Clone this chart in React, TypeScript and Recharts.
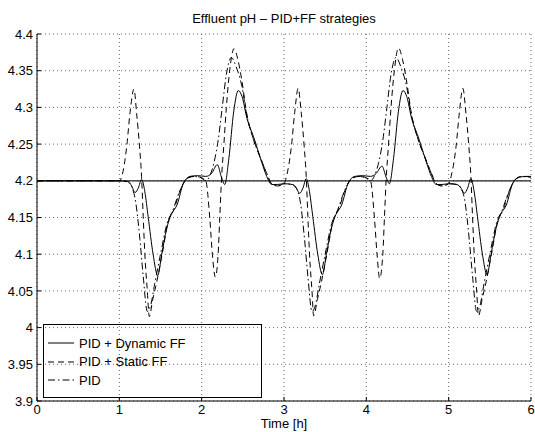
/** Effluent pH under the three PID+FF control strategies (step disturbances every hour). */

import {
  LineChart,
  Line,
  XAxis,
  YAxis,
  CartesianGrid,
  ReferenceLine,
  Legend,
  Label,
} from "recharts";

// PID + Dynamic FF (solid)
const dynTime = [
  0, 1, 1.1, 1.15, 1.19, 1.23, 1.27, 1.31, 1.35, 1.41, 1.466, 1.515, 1.575, 1.63, 1.7, 1.78, 1.86, 1.95,
  2.05, 2.12, 2.19, 2.24, 2.28, 2.33, 2.39, 2.445, 2.49, 2.55, 2.63, 2.73, 2.79, 2.85, 2.92,
  3.0, 3.1, 3.15, 3.19, 3.23, 3.27, 3.31, 3.35, 3.41, 3.466, 3.515, 3.575, 3.63, 3.7, 3.78, 3.86, 3.95,
  4.05, 4.12, 4.19, 4.24, 4.28, 4.33, 4.39, 4.445, 4.49, 4.55, 4.63, 4.73, 4.79, 4.85, 4.92,
  5.0, 5.1, 5.15, 5.19, 5.23, 5.27, 5.31, 5.35, 5.41, 5.466, 5.515, 5.575, 5.63, 5.7, 5.78, 5.86, 5.95, 6.0,
];
const dynPH = [
  4.2, 4.2, 4.199, 4.193, 4.184, 4.19, 4.202, 4.185, 4.151, 4.1, 4.071, 4.1, 4.135, 4.154, 4.167, 4.197, 4.206, 4.207,
  4.206, 4.21, 4.222, 4.205, 4.195, 4.23, 4.295, 4.323, 4.315, 4.285, 4.26, 4.225, 4.206, 4.195, 4.195,
  4.196, 4.195, 4.19, 4.183, 4.19, 4.203, 4.185, 4.151, 4.1, 4.072, 4.1, 4.135, 4.154, 4.167, 4.197, 4.206, 4.207,
  4.206, 4.21, 4.22, 4.205, 4.196, 4.23, 4.295, 4.323, 4.315, 4.285, 4.26, 4.225, 4.206, 4.195, 4.195,
  4.196, 4.195, 4.19, 4.183, 4.19, 4.203, 4.185, 4.151, 4.1, 4.072, 4.1, 4.135, 4.154, 4.167, 4.197, 4.205, 4.206, 4.206,
];

// PID + Static FF (dashed)
const statTime = [
  0, 1, 1.03, 1.09, 1.13, 1.178, 1.21, 1.245, 1.27, 1.29, 1.31, 1.34, 1.364, 1.405, 1.45, 1.52, 1.6, 1.66, 1.74, 1.82, 1.92,
  2.0, 2.05, 2.1, 2.13, 2.166, 2.2, 2.22, 2.24, 2.27, 2.3, 2.34, 2.393, 2.44, 2.486, 2.547, 2.63, 2.71, 2.79, 2.85, 2.92,
  3.0, 3.03, 3.09, 3.13, 3.172, 3.21, 3.245, 3.27, 3.29, 3.31, 3.34, 3.36, 3.405, 3.45, 3.52, 3.6, 3.66, 3.74, 3.82, 3.92,
  4.0, 4.05, 4.1, 4.13, 4.162, 4.2, 4.22, 4.24, 4.27, 4.3, 4.34, 4.39, 4.44, 4.486, 4.547, 4.63, 4.71, 4.79, 4.85, 4.92,
  5.0, 5.03, 5.09, 5.13, 5.172, 5.21, 5.245, 5.27, 5.29, 5.31, 5.34, 5.362, 5.405, 5.45, 5.52, 5.6, 5.66, 5.74, 5.82, 5.92, 6.0,
];
const statPH = [
  4.2, 4.2, 4.206, 4.247, 4.293, 4.325, 4.292, 4.247, 4.206, 4.151, 4.1, 4.05, 4.015, 4.038, 4.06, 4.1, 4.147, 4.16, 4.187, 4.203, 4.206,
  4.204, 4.2, 4.147, 4.1, 4.069, 4.1, 4.15, 4.2, 4.25, 4.3, 4.35, 4.38, 4.365, 4.338, 4.292, 4.256, 4.233, 4.21, 4.196, 4.193,
  4.196, 4.206, 4.247, 4.293, 4.326, 4.292, 4.247, 4.206, 4.151, 4.1, 4.05, 4.016, 4.038, 4.06, 4.1, 4.147, 4.16, 4.187, 4.203, 4.206,
  4.204, 4.2, 4.147, 4.1, 4.067, 4.1, 4.15, 4.2, 4.25, 4.3, 4.35, 4.381, 4.365, 4.338, 4.292, 4.256, 4.233, 4.21, 4.196, 4.193,
  4.196, 4.206, 4.247, 4.293, 4.326, 4.292, 4.247, 4.206, 4.151, 4.1, 4.05, 4.016, 4.038, 4.06, 4.1, 4.147, 4.16, 4.187, 4.203, 4.206, 4.205,
];

// PID only (dash-dot)
const pidTime = [
  0, 1, 1.1, 1.15, 1.2, 1.25, 1.29, 1.34, 1.38, 1.43, 1.5, 1.58, 1.65, 1.73, 1.8, 1.88, 1.98,
  2.05, 2.1, 2.15, 2.2, 2.25, 2.3, 2.36, 2.42, 2.486, 2.547, 2.63, 2.71, 2.79, 2.85, 2.92,
  3.0, 3.1, 3.15, 3.2, 3.25, 3.29, 3.34, 3.38, 3.43, 3.5, 3.58, 3.65, 3.73, 3.8, 3.88, 3.98,
  4.05, 4.1, 4.15, 4.2, 4.25, 4.3, 4.36, 4.42, 4.486, 4.547, 4.63, 4.71, 4.79, 4.85, 4.92,
  5.0, 5.1, 5.15, 5.2, 5.25, 5.29, 5.34, 5.38, 5.43, 5.5, 5.58, 5.65, 5.73, 5.8, 5.88, 5.98, 6.0,
];
const pidPH = [
  4.2, 4.2, 4.199, 4.192, 4.17, 4.12, 4.07, 4.022, 4.03, 4.06, 4.1, 4.142, 4.16, 4.185, 4.2, 4.206, 4.205,
  4.2, 4.207, 4.225, 4.255, 4.3, 4.345, 4.368, 4.355, 4.33, 4.29, 4.256, 4.232, 4.21, 4.196, 4.193,
  4.196, 4.195, 4.19, 4.17, 4.12, 4.07, 4.022, 4.03, 4.06, 4.1, 4.142, 4.16, 4.185, 4.2, 4.206, 4.205,
  4.2, 4.207, 4.225, 4.255, 4.3, 4.345, 4.368, 4.355, 4.33, 4.29, 4.256, 4.232, 4.21, 4.196, 4.193,
  4.196, 4.195, 4.19, 4.17, 4.12, 4.07, 4.022, 4.03, 4.06, 4.1, 4.142, 4.16, 4.185, 4.2, 4.206, 4.205, 4.205,
];

const xTicks = [0, 1, 2, 3, 4, 5, 6];
const yTicks = [3.9, 3.95, 4, 4.05, 4.1, 4.15, 4.2, 4.25, 4.3, 4.35, 4.4];
const setpoint = 4.2;

const FONT = '"Liberation Sans", Arial, Helvetica, sans-serif';

const zip = (ts: number[], vs: number[]) => ts.map((t, i) => ({ t, ph: vs[i] }));

const series = [
  { name: "PID + Dynamic FF", data: zip(dynTime, dynPH), dash: undefined as string | undefined },
  { name: "PID + Static FF", data: zip(statTime, statPH), dash: "6 4" },
  { name: "PID", data: zip(pidTime, pidPH), dash: "7 3 1.5 3" },
];

function LegendBox() {
  return (
    <div
      style={{
        position: "relative",
        width: 219,
        height: 74,
        border: "1.5px solid #000",
        boxSizing: "border-box",
        fontFamily: FONT,
        fontSize: 13,
        color: "#000",
      }}
    >
      {series.map((s, i) => (
        <div
          key={s.name}
          style={{
            position: "absolute",
            left: 4,
            top: 9 + i * 18.5,
            height: 18,
            display: "flex",
            alignItems: "center",
            whiteSpace: "nowrap",
          }}
        >
          <svg width={26} height={4} style={{ marginRight: 5 }}>
            <line x1={0} y1={2} x2={26} y2={2} stroke="#000" strokeWidth={1} strokeDasharray={s.dash} />
          </svg>
          {s.name}
        </div>
      ))}
    </div>
  );
}

export default function App() {
  const axisTick = { fill: "#000", fontSize: 13, fontFamily: FONT };
  return (
    <div style={{ position: "absolute", left: 0, top: 0, width: 535, height: 432, background: "#fff" }}>
      <div
        style={{
          position: "absolute",
          left: 37,
          width: 494,
          top: 10,
          textAlign: "center",
          fontFamily: FONT,
          fontSize: 13,
          lineHeight: "18px",
          color: "#000",
        }}
      >
        Effluent pH – PID+FF strategies
      </div>
      <LineChart width={535} height={432} margin={{ top: 34, right: 4, bottom: 0, left: 0 }}>
        <CartesianGrid stroke="#666" strokeDasharray="1 3" />
        <XAxis
          dataKey="t"
          type="number"
          domain={[0, 6]}
          ticks={xTicks}
          height={31}
          allowDataOverflow
          tick={axisTick}
          tickSize={-4}
          tickMargin={8}
          stroke="#000"
        >
          <Label value="Time [h]" position="insideBottom" offset={4} fill="#000" fontSize={13} fontFamily={FONT} />
        </XAxis>
        <XAxis
          xAxisId="top"
          orientation="top"
          type="number"
          domain={[0, 6]}
          ticks={xTicks}
          height={0}
          tickSize={-4}
          tickFormatter={() => ""}
          stroke="#000"
        />
        <YAxis
          type="number"
          domain={[3.9, 4.4]}
          ticks={yTicks}
          width={37}
          allowDataOverflow
          tick={axisTick}
          tickSize={-4}
          tickMargin={8}
          stroke="#000"
        />
        <YAxis
          yAxisId="right"
          orientation="right"
          type="number"
          domain={[3.9, 4.4]}
          ticks={yTicks}
          width={0}
          tickSize={-4}
          tickFormatter={() => ""}
          stroke="#000"
        />
        <ReferenceLine y={setpoint} stroke="#222" strokeWidth={1.2} />
        {series.map((s) => (
          <Line
            key={s.name}
            data={s.data}
            dataKey="ph"
            name={s.name}
            type="monotone"
            stroke="#000"
            strokeWidth={1}
            strokeDasharray={s.dash}
            dot={false}
            activeDot={false}
            isAnimationActive={false}
          />
        ))}
        <Legend
          layout="vertical"
          align="center"
          verticalAlign="middle"
          content={() => <LegendBox />}
          wrapperStyle={{ left: 43, top: 324, width: 219, height: 74 }}
        />
      </LineChart>
    </div>
  );
}
